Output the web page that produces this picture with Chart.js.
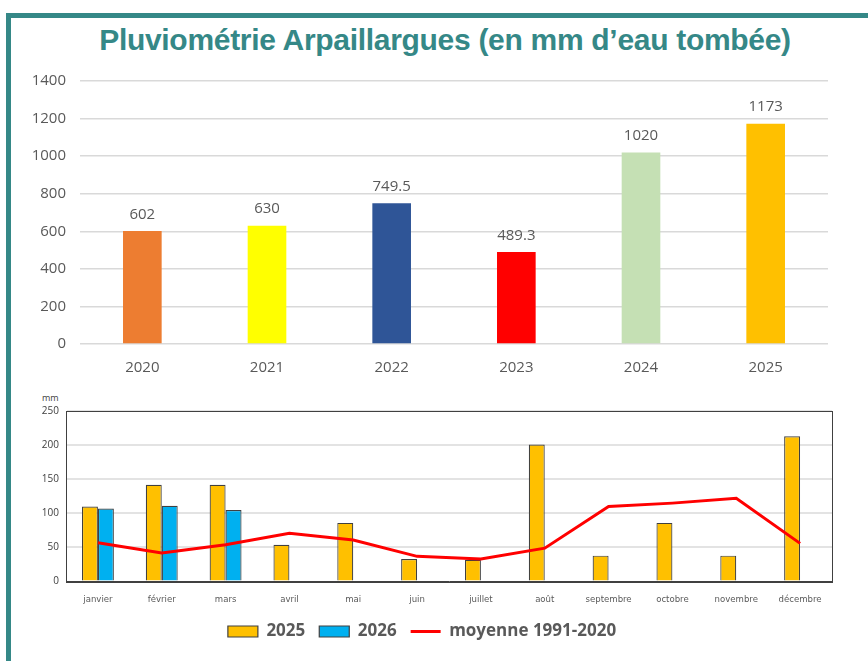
<!DOCTYPE html>
<html>
<head>
<meta charset="utf-8">
<script src="https://cdn.jsdelivr.net/npm/chart.js@4"></script>
<style>
  html, body { margin: 0; padding: 0; background: #fff; }
  body { width: 868px; height: 661px; position: relative; overflow: hidden; }
  #frame { position: absolute; left: 6px; top: 13px; width: 900px; height: 700px;
           border-left: 5px solid #358887; border-top: 5px solid #358887; }
  #title { position: absolute; left: 0; width: 890px; top: 23px; text-align: center;
           font-family: "Liberation Sans", Arial, sans-serif; font-weight: bold; font-size: 30px;
           color: #358887; letter-spacing: -0.3px; }
  #mm { position: absolute; left: 42px; top: 391px; font-family: "Open Sans", sans-serif;
        font-size: 9px; color: #404040; }
  #c1 { position: absolute; left: 0; top: 58px; }
  #c2 { position: absolute; left: 0; top: 398px; }
</style>
</head>
<body>
<div id="frame"></div>
<div id="title">Pluviométrie Arpaillargues (en mm d’eau tombée)</div>
<div id="mm">mm</div>
<canvas id="c1" width="868" height="326"></canvas>
<canvas id="c2" width="868" height="263"></canvas>
<script>
// ---- Data ----
const years = ['2020', '2021', '2022', '2023', '2024', '2025'];
const yearTotals = [602, 630, 749.5, 489.3, 1020, 1173];
const yearColors = ['#ED7D31', '#FFFF00', '#2F5597', '#FF0000', '#C5E0B4', '#FFC000'];
const yearTicks = [0, 200, 400, 600, 800, 1000, 1200, 1400];

const months = ['janvier', 'février', 'mars', 'avril', 'mai', 'juin', 'juillet', 'août',
                'septembre', 'octobre', 'novembre', 'décembre'];
const rain2025 = [110, 142, 142, 54, 86, 33, 32, 201, 38, 86, 38, 213];
const rain2026 = [107, 111, 105, null, null, null, null, null, null, null, null, null];
const normal19912020 = [57, 42, 54, 71, 61, 37, 33, 49, 110, 115, 122, 56];
const monthTicks = [0, 50, 100, 150, 200, 250];

const gray = '#595959';

// value labels above bars (top chart)
const valueLabels = {
  id: 'valueLabels',
  afterDatasetsDraw(chart) {
    const ctx = chart.ctx;
    const meta = chart.getDatasetMeta(0);
    const data = chart.data.datasets[0].data;
    ctx.save();
    ctx.font = '15px "Open Sans", sans-serif';
    ctx.fillStyle = gray;
    ctx.textAlign = 'center';
    ctx.textBaseline = 'bottom';
    meta.data.forEach((bar, i) => {
      ctx.fillText(String(data[i]), bar.x, bar.y - 9);
    });
    ctx.restore();
  }
};

new Chart(document.getElementById('c1'), {
  type: 'bar',
  data: {
    labels: years,
    datasets: [{
      data: yearTotals,
      backgroundColor: yearColors,
      categoryPercentage: 1,
      barPercentage: 0.31
    }]
  },
  options: {
    responsive: false,
    animation: false,
    layout: { padding: { left: 0, right: 40, top: 0, bottom: 0 } },
    plugins: { legend: { display: false }, tooltip: { enabled: false } },
    scales: {
      x: {
        grid: { display: false },
        border: { display: false },
        ticks: { color: gray, font: { family: '"Open Sans", sans-serif', size: 15 }, padding: 7 }
      },
      y: {
        min: 0, max: 1400,
        afterBuildTicks: s => { s.ticks = yearTicks.map(v => ({ value: v })); },
        afterFit: s => { s.width = 80; },
        grid: { color: '#D9D9D9', lineWidth: 1.5, drawTicks: false },
        border: { display: false },
        ticks: { color: gray, font: { family: '"Open Sans", sans-serif', size: 15 }, padding: 14,
                 callback: v => String(v) }
      }
    }
  },
  plugins: [valueLabels]
});

// box around plot area (bottom chart)
const plotBox = {
  id: 'plotBox',
  afterDraw(chart) {
    const a = chart.chartArea, ctx = chart.ctx;
    ctx.save();
    ctx.strokeStyle = '#404040';
    ctx.lineWidth = 1;
    ctx.strokeRect(Math.round(a.left) + 0.5, Math.round(a.top) + 0.5,
                   Math.round(a.right - a.left), Math.round(a.bottom - a.top));
    ctx.restore();
  }
};

new Chart(document.getElementById('c2'), {
  type: 'bar',
  data: {
    labels: months,
    datasets: [
      {
        type: 'line',
        label: 'moyenne 1991-2020',
        data: normal19912020,
        borderColor: '#FF0000',
        backgroundColor: '#FF0000',
        borderWidth: 3,
        pointRadius: 0,
        pointStyle: 'line',
        tension: 0,
        order: 0
      },
      {
        label: '2025',
        data: rain2025,
        backgroundColor: '#FFC000',
        borderColor: '#404040',
        borderWidth: 1.2,
        pointStyle: 'rect',
        categoryPercentage: 0.5,
        barPercentage: 1,
        order: 1
      },
      {
        label: '2026',
        data: rain2026,
        backgroundColor: '#00B0F0',
        borderColor: '#404040',
        borderWidth: 1.2,
        pointStyle: 'rect',
        categoryPercentage: 0.5,
        barPercentage: 1,
        order: 1
      }
    ]
  },
  options: {
    responsive: false,
    animation: false,
    layout: { padding: { left: 12, right: 36, top: 5, bottom: 11 } },
    plugins: {
      tooltip: { enabled: false },
      legend: {
        position: 'bottom',
        labels: {
          usePointStyle: true,
          pointStyleWidth: 30,
          boxHeight: 11,
          padding: 14,
          color: gray,
          font: { family: '"Open Sans", sans-serif', size: 17, weight: 'bold' },
          sort: (a, b) => {
            const order = ['2025', '2026', 'moyenne 1991-2020'];
            return order.indexOf(a.text) - order.indexOf(b.text);
          }
        }
      }
    },
    scales: {
      x: {
        grid: { display: false },
        border: { display: true, color: '#404040' },
        ticks: { color: gray, font: { family: '"Liberation Sans Narrow", "DejaVu Sans Condensed", sans-serif', size: 9.5 }, padding: 4, maxRotation: 0, autoSkip: false }
      },
      y: {
        min: 0, max: 250,
        afterBuildTicks: s => { s.ticks = monthTicks.map(v => ({ value: v })); },
        afterFit: s => { s.width = 54; },
        grid: { color: '#E3E3E3', lineWidth: 2, drawTicks: false },
        border: { display: true, color: '#404040' },
        ticks: { color: '#404040', font: { family: '"Open Sans", sans-serif', size: 10 }, padding: 7 }
      }
    }
  },
  plugins: [plotBox]
});
</script>
</body>
</html>
